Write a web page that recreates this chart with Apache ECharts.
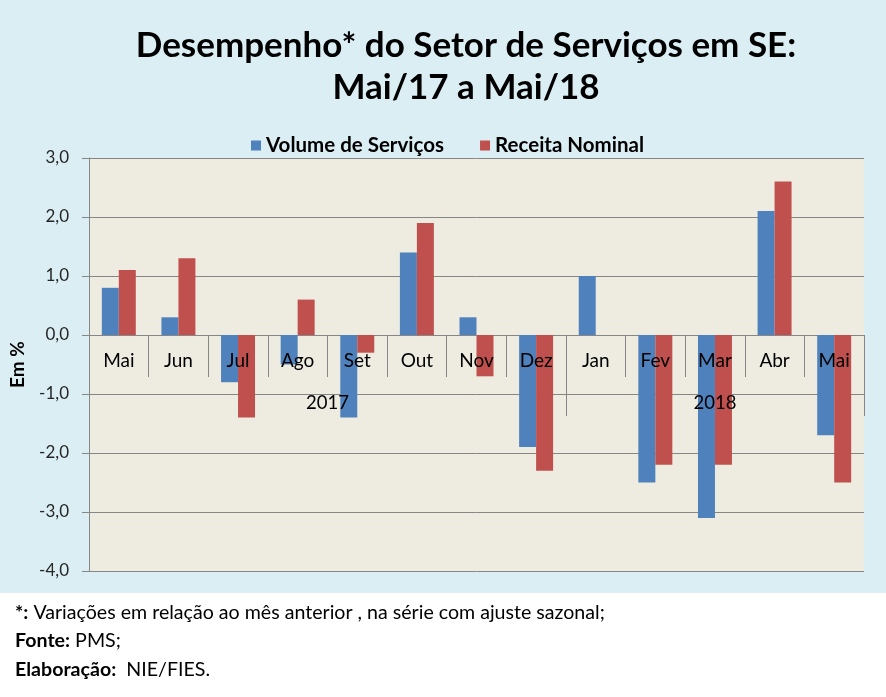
<!DOCTYPE html>
<html>
<head>
<meta charset="utf-8">
<script src="https://cdn.jsdelivr.net/npm/echarts@6/dist/echarts.min.js"></script>
<style>
html,body{margin:0;padding:0;background:#ffffff;}
#chart{width:886px;height:697px;}
</style>
</head>
<body>
<div id="chart"></div>
<script>
const months = ['Mai','Jun','Jul','Ago','Set','Out','Nov','Dez','Jan','Fev','Mar','Abr','Mai'];
const years = ['2017','2018'];
const monthsPerYear = [8, 5];
const volumeServicos = [0.8, 0.3, -0.8, -0.5, -1.4, 1.4, 0.3, -1.9, 1.0, -2.5, -3.1, 2.1, -1.7];
const receitaNominal = [1.1, 1.3, -1.4, 0.6, -0.3, 1.9, -0.7, -2.3, 0.0, -2.2, -2.2, 2.6, -2.5];
const yTicks = {min: -4, max: 3, interval: 1};

// year group positions on a 0..N scale aligned with month bands
const yearCenters = [];
const yearBounds = [0];
let acc = 0;
monthsPerYear.forEach(n => { yearCenters.push(acc + n / 2); acc += n; yearBounds.push(acc); });

const gridTop = 158, gridBottom = 126, H = 697;
const plotH = H - gridTop - gridBottom;
// move the bottom x axes up to the zero line
const zeroOffset = -plotH * (0 - yTicks.min) / (yTicks.max - yTicks.min);

const font = 'Lato, "Open Sans", sans-serif';
const chart = echarts.init(document.getElementById('chart'));
chart.setOption({
  backgroundColor: '#ffffff',
  textStyle: {fontFamily: font},
  graphic: [
    {type: 'rect', z: -10, silent: true, shape: {x: 0, y: 0, width: 886, height: 593}, style: {fill: '#dbeef4'}},
    {type: 'text', left: 15, top: 598, style: {
      text: '{b|*:} Variações em relação ao mês anterior , na série com ajuste sazonal;\n{b|Fonte:} PMS;\n{b|Elaboração:}  NIE/FIES.',
      fontFamily: font, fontSize: 19.6, lineHeight: 28.5, fill: '#000',
      rich: {b: {fontWeight: 'bold', fontSize: 19.6, fontFamily: font}}
    }}
  ],
  title: {
    text: 'Desempenho* do Setor de Serviços em SE:\nMai/17 a Mai/18',
    left: 461, textAlign: 'center', top: 20,
    textStyle: {fontSize: 35, fontWeight: 'bold', color: '#000', lineHeight: 42, fontFamily: font}
  },
  legend: {
    top: 130, left: 246,
    itemWidth: 10, itemHeight: 10, itemGap: 36,
    icon: 'rect',
    textStyle: {fontSize: 20.5, fontWeight: 'bold', color: '#000', fontFamily: font},
    data: ['Volume de Serviços', 'Receita Nominal']
  },
  grid: {left: 88, right: 22, top: gridTop, bottom: gridBottom, show: true, backgroundColor: '#eeece1', borderWidth: 0},
  xAxis: [
    {
      type: 'category', data: months, position: 'bottom', offset: zeroOffset, z: 5,
      axisLine: {show: false, onZero: false},
      axisTick: {show: true, length: 42, interval: 0, lineStyle: {color: '#868686'}},
      axisLabel: {margin: 16, fontSize: 19, color: '#000', interval: 0, fontFamily: font},
      splitLine: {show: false}
    },
    {
      type: 'value', min: 0, max: acc, position: 'bottom', offset: zeroOffset, z: 5,
      axisLine: {show: false, onZero: false},
      axisTick: {show: true, length: 81, customValues: yearBounds, lineStyle: {color: '#868686'}},
      axisLabel: {show: true, margin: 59, fontSize: 18.5, color: '#000', fontFamily: font,
        customValues: yearCenters,
        formatter: v => { const i = yearCenters.indexOf(v); return i >= 0 ? years[i] : ''; }},
      splitLine: {show: false}
    }
  ],
  yAxis: {
    type: 'value', min: yTicks.min, max: yTicks.max, interval: yTicks.interval,
    name: 'Em %', nameLocation: 'middle', nameGap: 62, nameRotate: 90,
    nameTextStyle: {fontSize: 19, fontWeight: 'bold', color: '#000', fontFamily: font},
    axisLine: {show: true, lineStyle: {color: '#868686'}},
    axisTick: {show: true, length: 7, lineStyle: {color: '#868686'}},
    axisLabel: {margin: 20, fontSize: 17, color: '#262626', fontFamily: font,
      formatter: v => v.toFixed(1).replace('.', ',')},
    splitLine: {show: true, lineStyle: {color: '#868686', width: 1}}
  },
  series: [
    {name: 'Volume de Serviços', type: 'bar', data: volumeServicos, xAxisIndex: 0,
      itemStyle: {color: '#4f81bd'}, barGap: '0%', barCategoryGap: '43%'},
    {name: 'Receita Nominal', type: 'bar', data: receitaNominal, xAxisIndex: 0,
      itemStyle: {color: '#c0504d'}, barGap: '0%', barCategoryGap: '43%'}
  ]
});
</script>
</body>
</html>
